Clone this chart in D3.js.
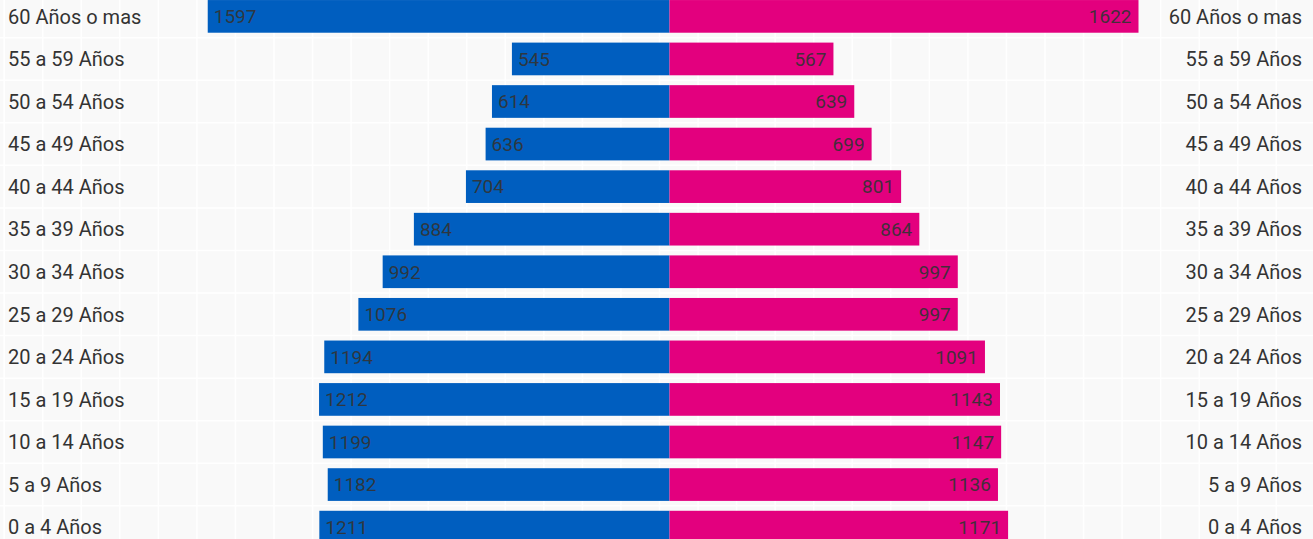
<!DOCTYPE html>
<html>
<head>
<meta charset="utf-8">
<style>
  html, body { margin: 0; padding: 0; background: #f9f9f9; overflow: hidden; }
  svg { display: block; }
  .label { font: 20px Roboto, sans-serif; fill: #333; }
  .value { font: 19px Roboto, sans-serif; fill: #333; fill-opacity: 0.92; }
  .grid line { stroke: #fff; stroke-width: 1.5px; }
</style>
</head>
<body>
<svg id="pyramid"></svg>
<script src="https://d3js.org/d3.v7.min.js"></script>
<script>

// age groups, top to bottom
var ageGroups = ["60 Años o mas", "55 a 59 Años", "50 a 54 Años", "45 a 49 Años",
  "40 a 44 Años", "35 a 39 Años", "30 a 34 Años", "25 a 29 Años", "20 a 24 Años",
  "15 a 19 Años", "10 a 14 Años", "5 a 9 Años", "0 a 4 Años"];

// hombres (left, blue)
var men = [1597, 545, 614, 636, 704, 884, 992, 1076, 1194, 1212, 1199, 1182, 1211];

// mujeres (right, pink)
var women = [1622, 567, 639, 699, 801, 864, 997, 997, 1091, 1143, 1147, 1136, 1171];

var width = 1313, height = 539;
var center = 669.5;

var svg = d3.select("#pyramid")
    .attr("width", width)
    .attr("height", height);

// band scale for rows (chart runs a bit past the bottom edge)
var y = d3.scaleBand()
    .domain(ageGroups)
    .range([-4.9, 548.4])
    .paddingInner(0.232)
    .paddingOuter(0.116);

// one scale for both halves
var x = d3.scaleLinear()
    .domain([0, 1622])
    .range([0, 469]);

// background grid
var grid = svg.append("g").attr("class", "grid");
grid.selectAll(".v")
    .data(d3.range(4.15, width, 38.55))
  .enter().append("line")
    .attr("x1", function(d) { return d; })
    .attr("x2", function(d) { return d; })
    .attr("y1", 0)
    .attr("y2", height);
grid.selectAll(".h")
    .data(ageGroups)
  .enter().append("line")
    .attr("x1", 0)
    .attr("x2", width)
    .attr("y1", function(d) { return y(d) - y.step() * 0.116; })
    .attr("y2", function(d) { return y(d) - y.step() * 0.116; });

// male bars
svg.selectAll(".bar-m")
    .data(men)
  .enter().append("rect")
    .attr("fill", "#005ebf")
    .attr("x", function(d) { return center - x(d); })
    .attr("y", function(d, i) { return y(ageGroups[i]); })
    .attr("width", function(d) { return x(d); })
    .attr("height", y.bandwidth());

// female bars
svg.selectAll(".bar-f")
    .data(women)
  .enter().append("rect")
    .attr("fill", "#e3007e")
    .attr("x", center)
    .attr("y", function(d, i) { return y(ageGroups[i]); })
    .attr("width", function(d) { return x(d); })
    .attr("height", y.bandwidth());

// values inside bars
svg.selectAll(".val-m")
    .data(men)
  .enter().append("text")
    .attr("class", "value")
    .attr("x", function(d) { return center - x(d) + 6; })
    .attr("y", function(d, i) { return y(ageGroups[i]) + y.bandwidth() / 2; })
    .attr("dy", "0.36em")
    .attr("text-anchor", "start")
    .text(function(d) { return d; });

svg.selectAll(".val-f")
    .data(women)
  .enter().append("text")
    .attr("class", "value")
    .attr("x", function(d) { return center + x(d) - 7; })
    .attr("y", function(d, i) { return y(ageGroups[i]) + y.bandwidth() / 2; })
    .attr("dy", "0.36em")
    .attr("text-anchor", "end")
    .text(function(d) { return d; });

// age labels both sides
svg.selectAll(".lab-l")
    .data(ageGroups)
  .enter().append("text")
    .attr("class", "label")
    .attr("x", 8)
    .attr("y", function(d) { return y(d) + y.bandwidth() / 2; })
    .attr("dy", "0.36em")
    .text(function(d) { return d; });

svg.selectAll(".lab-r")
    .data(ageGroups)
  .enter().append("text")
    .attr("class", "label")
    .attr("x", 1302)
    .attr("y", function(d) { return y(d) + y.bandwidth() / 2; })
    .attr("dy", "0.36em")
    .attr("text-anchor", "end")
    .text(function(d) { return d; });

</script>
</body>
</html>
